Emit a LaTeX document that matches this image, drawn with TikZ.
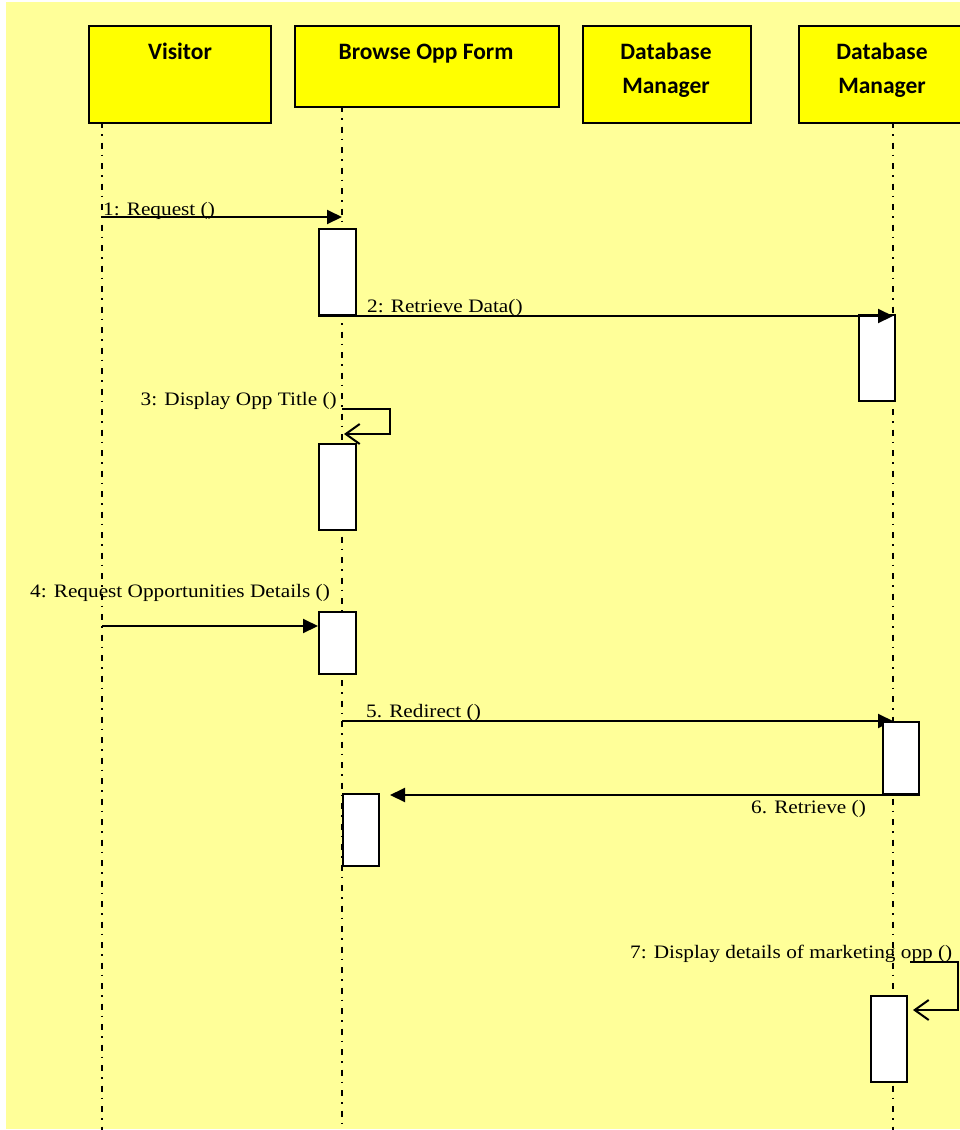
\documentclass[tikz,border=0pt]{standalone}
\usepackage{fontspec}
\setmainfont{Liberation Serif}
\newfontfamily\headfont{Carlito}
\newfontfamily\msgfont[FakeStretch=1.12]{Liberation Serif}
\usetikzlibrary{arrows.meta}
\definecolor{paleyellow}{HTML}{FFFF99}
\definecolor{headyellow}{HTML}{FFFF00}

\begin{document}
\begin{tikzpicture}[x=1pt, y=-1pt,
    object/.style={draw, line width=2pt, fill=headyellow, anchor=north west, inner sep=0pt},
    objtext/.style={font=\headfont\bfseries\fontsize{23.5}{34}\selectfont, align=center, anchor=base, inner sep=0pt},
    lifeline/.style={line width=1.8pt, dash pattern=on 6pt off 6pt on 1.5pt off 7pt},
    act/.style={draw, line width=2pt, fill=white, anchor=north west, inner sep=0pt, minimum width=36pt},
    msg/.style={line width=2pt, -{Triangle[length=15pt,width=14pt]}},
    selfmsg/.style={line width=2pt, -{Straight Barb[length=14pt,width=20pt,line width=2pt]}},
    msgtext/.style={font=\msgfont\fontsize{19}{22}\selectfont, inner sep=0pt}]
                    % Page
                    \clip (0,0) rectangle (960,1130);
                    \fill[white] (0,0) rectangle (960,1130);
                    \fill[paleyellow] (6,2) rectangle (960,1129);
                    % Objects
                    \node[object, minimum width=182pt, minimum height=97pt] (visitor) at (88,25) {};
                    \node[object, minimum width=264pt, minimum height=81pt] (browse) at (294,25) {};
                    \node[object, minimum width=168pt, minimum height=97pt] (dbm1) at (582,25) {};
                    \node[object, minimum width=168pt, minimum height=97pt] (dbm2) at (798,25) {};
                    \node[objtext] (visitortxt) at (180,59) {Visitor};
                    \node[objtext] (browsetxt) at (426,59) {Browse Opp Form};
                    \node[objtext] (dbm1txt) at (666,93) {Database\\Manager};
                    \node[objtext] (dbm2txt) at (882,93) {Database\\Manager};
                    % Lifelines
                    \coordinate (vistop) at (102,122);
                    \coordinate (visbot) at (102,1130);
                    \coordinate (bowtop) at (342,106);
                    \coordinate (bowbot) at (342,1130);
                    \coordinate (dbmtop) at (893,122);
                    \coordinate (dbmbot) at (893,1130);
                    \draw[lifeline] (vistop) -- (visbot);
                    \draw[lifeline] (bowtop) -- (bowbot);
                    \draw[lifeline] (dbmtop) -- (dbmbot);
                    % Activations
                    \node[act, minimum width=37pt, minimum height=86pt] (a1) at (318,228) {};
                    \node[act, minimum height=86pt] (a2) at (858,314) {};
                    \node[act, minimum width=37pt, minimum height=86pt] (a3) at (318,443) {};
                    \node[act, minimum width=37pt, minimum height=62pt] (a4) at (318,611) {};
                    % Messages
                    \coordinate (m1s) at (102,217);
                    \coordinate (m1e) at (342,217);
                    \draw[msg] (m1s) -- (m1e);
                    \node[msgtext, anchor=base west] (l1) at (103,215) {1: Request ()};
                    \draw[msg] (a1.south west) -- (a1.south west -| dbmtop);
                    \node[msgtext, anchor=base west] (l2) at (367,312) {2: Retrieve Data()};
                    \coordinate (m3s) at (342,409);
                    \coordinate (m3e) at (344,434);
                    \draw[selfmsg] (m3s) -- ++(48,0) -- ++(0,25) -- (m3e);
                    \node[msgtext, anchor=base east] (l3) at (337,405) {3: Display Opp Title ()};
                    \coordinate (m4s) at (102,626);
                    \draw[msg] (m4s) -- (m4s -| a4.west);
                    \node[msgtext, anchor=base west] (l4) at (30,597) {4: Request Opportunities Details ()};
                    \coordinate (m5s) at (342,721);
                    \draw[msg] (m5s) -- (m5s -| dbmtop);
                    \node[msgtext, anchor=base west] (l5) at (366,717) {5. Redirect ()};
                    \node[act, minimum height=72pt] (a5) at (882,721) {};
                    \node[act, minimum height=72pt] (a6) at (342,793) {};
                    \node[act, minimum height=86pt] (a7) at (870,995) {};
                    \coordinate (m6e) at (390,793);
                    \draw[msg] (a5.south east) -- (a5.south east -| m6e);
                    \node[msgtext, anchor=base west] (l6) at (751,813) {6. Retrieve ()};
                    \coordinate (m7s) at (910,962);
                    \coordinate (m7e) at (913,1010);
                    \draw[selfmsg] (m7s) -- ++(48,0) -- ++(0,48) -- (m7e);
                    \node[msgtext, anchor=base west] (l7) at (630,958) {7: Display details of marketing opp ()};
                \end{tikzpicture}
\end{document}
